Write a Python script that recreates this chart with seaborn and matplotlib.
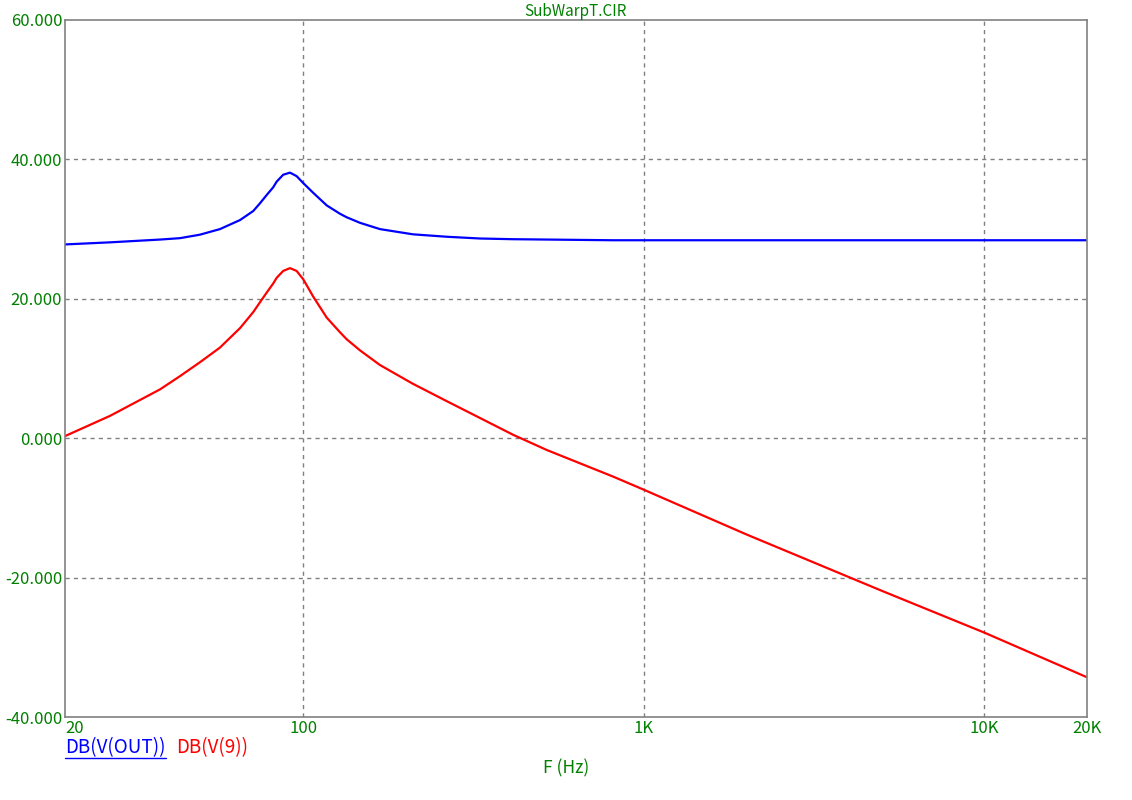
import numpy as np
import pandas as pd
import matplotlib
matplotlib.use("Agg")
import matplotlib.pyplot as plt
from matplotlib.lines import Line2D
import seaborn as sns

# ---- data ----
freq_hz = [20, 27.1, 38.0, 43.5, 49.8, 57.0, 65.3, 71.4, 74.7, 78.2, 81.7, 83.6,
           87.4, 91.5, 95.7, 100.1, 107.1, 117.3, 128.3, 134.2, 146.9, 160.7,
           168.1, 210.1, 264.4, 330.5, 413, 519.6, 649.5, 812, 1001,
           2000, 5000, 10000, 20000]
db_out = [27.8, 28.1, 28.5, 28.7, 29.2, 30.0, 31.3, 32.6, 33.7, 34.9, 36.0, 36.8,
          37.8, 38.1, 37.6, 36.6, 35.2, 33.4, 32.2, 31.7, 30.9, 30.3,
          30.0, 29.25, 28.9, 28.65, 28.55, 28.5, 28.45, 28.4, 28.4,
          28.4, 28.4, 28.4, 28.4]
db_v9 = [0.3, 3.2, 7.0, 8.9, 10.9, 13.0, 15.8, 18.1, 19.5, 20.9, 22.2, 23.0,
         24.0, 24.4, 24.0, 22.8, 20.3, 17.3, 15.2, 14.2, 12.6, 11.2,
         10.5, 7.8, 5.3, 2.9, 0.5, -1.7, -3.6, -5.5, -7.4,
         -13.8, -21.9, -27.9, -34.3]
series_names = ["DB(V(OUT))", "DB(V(9))"]
series_colors = ["#0000FF", "#FF0000"]
y_ticks = [-40, -20, 0, 20, 40, 60]
y_tick_labels = ["-40.000", "-20.000", "0.000", "20.000", "40.000", "60.000"]
x_ticks = [20, 100, 1000, 10000, 20000]
x_tick_labels = ["20", "100", "1K", "10K", "20K"]
title_text = "SubWarpT.CIR"
x_label = "F (Hz)"

df = pd.concat([
    pd.DataFrame({"f": freq_hz, "db": db_out, "s": series_names[0]}),
    pd.DataFrame({"f": freq_hz, "db": db_v9, "s": series_names[1]}),
])

sns.set_style("white")
plt.rcParams["font.family"] = ["Noto Sans CJK JP", "DejaVu Sans"]
green = "#008000"
W, H = 1132, 800
fig = plt.figure(figsize=(W / 100, H / 100), dpi=100)
ax = fig.add_axes([65 / W, 1 - 717 / H, (1087 - 65) / W, (717 - 20) / H])

sns.lineplot(data=df, x="f", y="db", hue="s", palette=series_colors,
             hue_order=series_names, ax=ax, linewidth=1.6, legend=False,
             estimator=None, sort=False)
for ln in ax.lines:
    ln.set_solid_joinstyle("round")
ax.set_xscale("log")
ax.set_xlim(20, 20000)
ax.set_ylim(-40, 60)

for v in [100, 1000, 10000]:
    ax.axvline(v, color="#808080", lw=1.0, ls=(0, (3, 3)), zorder=0)
for v in [-20, 0, 20, 40]:
    ax.axhline(v, color="#808080", lw=1.0, ls=(0, (3, 3)), zorder=0)

ax.set_yticks(y_ticks)
ax.set_yticklabels(y_tick_labels)
ax.set_xticks(x_ticks)
ax.set_xticklabels(x_tick_labels)
ax.xaxis.set_minor_locator(matplotlib.ticker.NullLocator())
ax.tick_params(axis="both", length=0, labelsize=12, labelcolor=green)
ax.tick_params(axis="y", pad=2)
ax.tick_params(axis="x", pad=2)
xl = ax.get_xticklabels()
xl[0].set_horizontalalignment("left")
for sp in ax.spines.values():
    sp.set_color("#808080")
    sp.set_linewidth(1.2)
ax.set_xlabel("")
ax.set_ylabel("")

fig.text(575 / W, 1 - 11 / H, title_text, color=green, fontsize=11,
         ha="center", va="center")
fig.text(566 / W, 1 - 768 / H, x_label, color=green, fontsize=12.5,
         ha="center", va="center")
t1 = fig.text(65 / W, 1 - 748 / H, series_names[0], color=series_colors[0],
              fontsize=13.5, ha="left", va="center")
t2 = fig.text(176 / W, 1 - 748 / H, series_names[1], color=series_colors[1],
              fontsize=13.5, ha="left", va="center")

fig.canvas.draw()
r = fig.canvas.get_renderer()
bb = t1.get_window_extent(r)
inv = fig.transFigure.inverted()
(x0, y0) = inv.transform((bb.x0, bb.y0 + 1))
(x1, _) = inv.transform((bb.x1, bb.y0 + 1))
fig.add_artist(Line2D([x0, x1], [y0, y0], color=series_colors[0], lw=1.0,
                      transform=fig.transFigure))

fig.savefig("out.png", dpi=100, facecolor="white")
